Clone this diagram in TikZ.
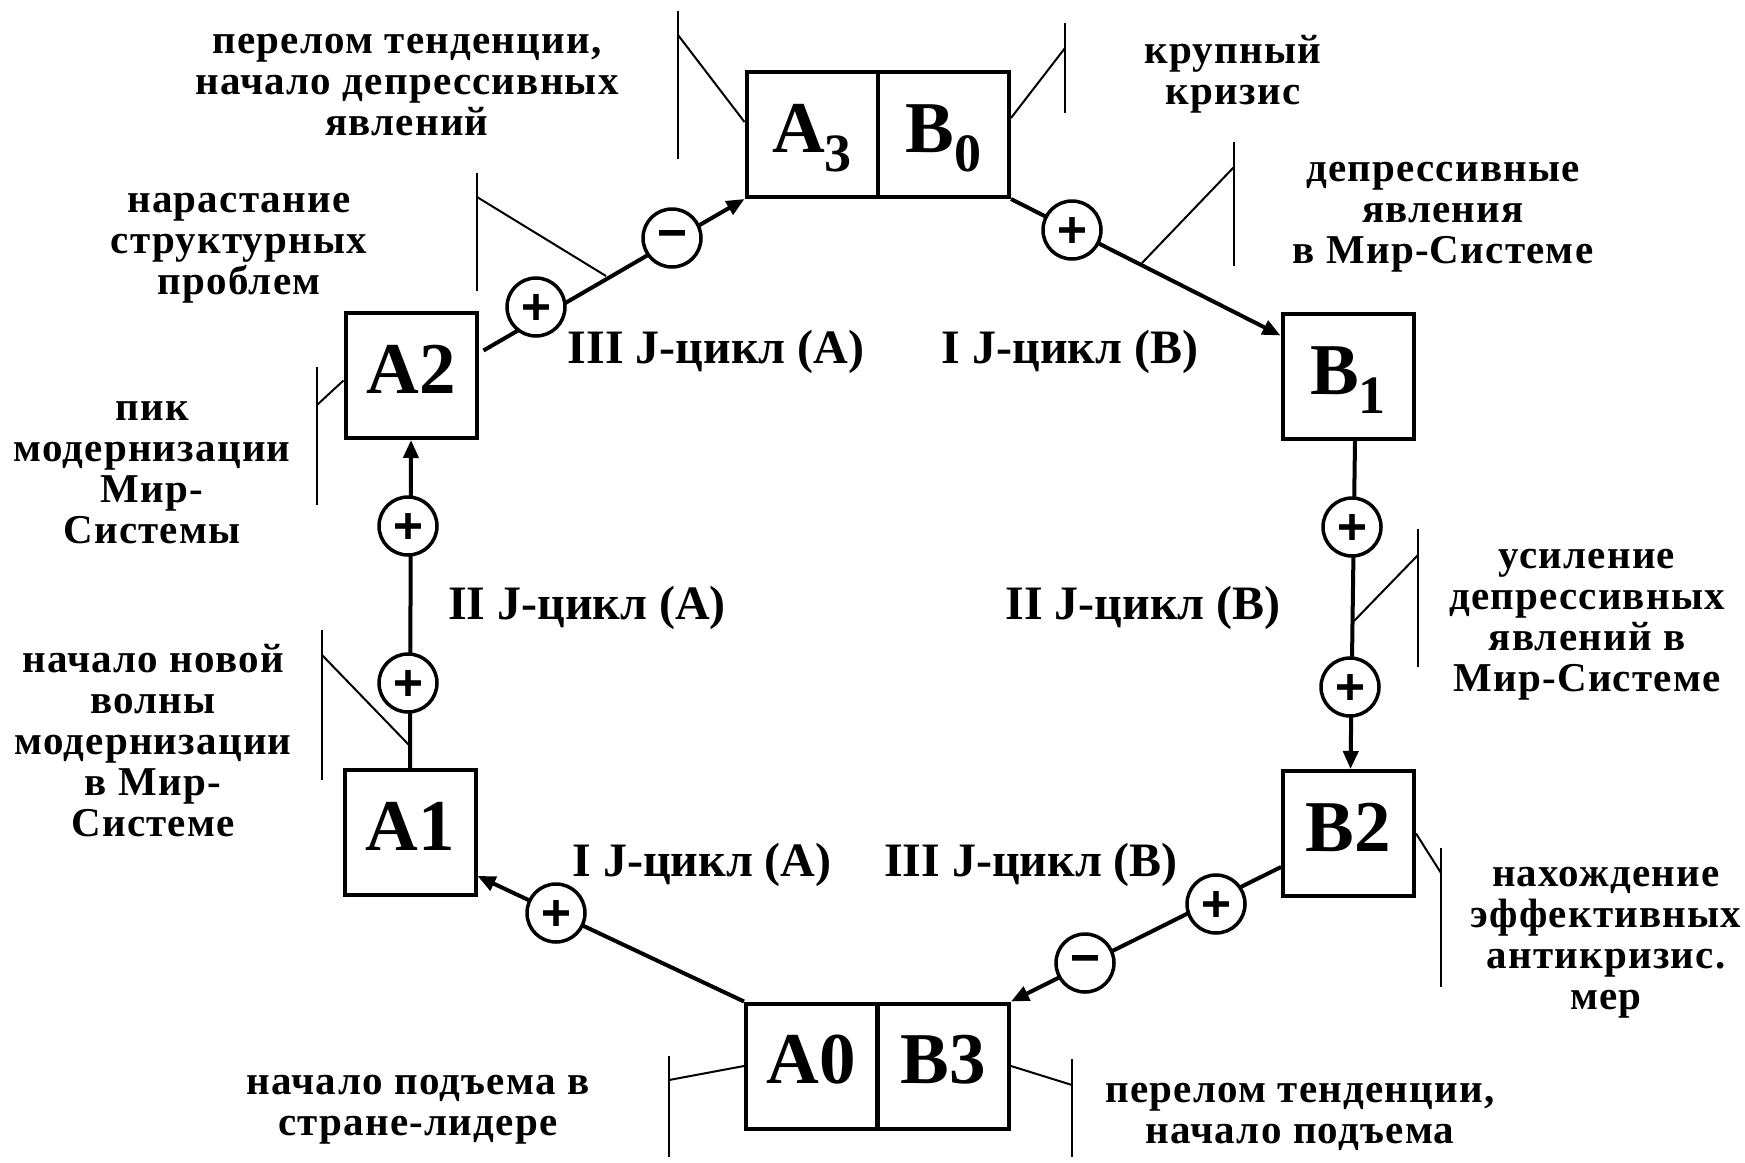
\documentclass[tikz,border=0pt]{standalone}
\usepackage{fontspec}
\setmainfont{Liberation Serif}
\newfontfamily\spacedserif[LetterSpace=3]{Liberation Serif}
\newfontfamily\signsans[FakeBold=2]{DejaVu Sans}
\usetikzlibrary{arrows.meta}

\tikzset{
  stage/.style={draw, line width=4pt, minimum width=131pt, minimum height=125pt,
    inner sep=0pt, text height=49pt, text depth=14pt,
    font=\bfseries\fontsize{73}{73}\selectfont},
  sign/.style={circle, draw, fill=white, line width=3.5pt, minimum size=58pt,
    inner sep=0pt, font=\signsans\bfseries\fontsize{40}{40}\selectfont},
  flowarrow/.style={line width=4pt, -{Triangle[length=18pt,width=15pt]}},
  leader/.style={line width=2pt},
  note/.style={align=center, inner sep=0pt,
    font=\spacedserif\bfseries\fontsize{41}{41}\selectfont},
  jcycle/.style={inner sep=0pt, font=\bfseries\fontsize{48}{48}\selectfont},
}
\newcommand{\lowsub}[1]{\raisebox{-19pt}{\fontsize{54}{54}\selectfont #1}}

\begin{document}
\begin{tikzpicture}[x=1pt,y=-1pt]
\fill[white] (0,0) rectangle (1745,1162);
\useasboundingbox (0,0) rectangle (1745,1162);

% phase boxes
\node[stage] (a3) at (812,134.5) {A\lowsub{3}};
\node[stage] (b0) at (943.5,134.5) {B\lowsub{0}};
\node[stage] (a2) at (411,375.5) {A2};
\node[stage] (b1) at (1348,376.5) {B\lowsub{1}};
\node[stage] (a1) at (410,832.5) {A1};
\node[stage] (b2) at (1348.5,833.5) {B2};
\node[stage] (a0) at (811.5,1066) {A0};
\node[stage] (b3) at (943.5,1066) {B3};

% transitions between phases
\draw[flowarrow] ([xshift=5pt,yshift=25pt]a2.east) -- (a3.south west);
\draw[flowarrow] (b0.south east) -- ([yshift=41pt]b1.west);
\draw[flowarrow] ([xshift=7pt]b1.south) -- ([xshift=2pt]b2.north);
\draw[flowarrow] ([yshift=-33.5pt]b2.west) -- (b3.north east);
\draw[flowarrow] (a0.north west) -- ([yshift=-43.5pt]a1.east);
\draw[flowarrow] (a1.north) -- (a2.south);

% feedback signs on the transitions
\node[sign] (p1) at (536,307) {+};
\node[sign] (m1) at (672,238) {−};
\node[sign] (p2) at (1072,230) {+};
\node[sign] (p3) at (1352,527) {+};
\node[sign] (p4) at (1350,687) {+};
\node[sign] (p5) at (1216,904) {+};
\node[sign] (m2) at (1085,963) {−};
\node[sign] (p6) at (556,913) {+};
\node[sign] (p7) at (408,683) {+};
\node[sign] (p8) at (408,526) {+};

% cycle names
\node[jcycle] (c3a) at (716,352) {III J-цикл (A)};
\node[jcycle] (c1b) at (1070,352) {I J-цикл (B)};
\node[jcycle] (c2a) at (587,608) {II J-цикл (A)};
\node[jcycle] (c2b) at (1143,608) {II J-цикл (B)};
\node[jcycle] (c1a) at (702,865) {I J-цикл (A)};
\node[jcycle] (c3b) at (1031,865) {III J-цикл (B)};

% annotations
\node[note] (t1) at (407,85) {перелом тенденции,\\начало депрессивных\\явлений};
\node[note] (t2) at (1233,74) {крупный\\кризис};
\node[note] (t3) at (239,248) {нарастание\\структурных\\проблем};
\node[note] (t4) at (1443,217) {депрессивные\\явления\\в Мир-Системе};
\node[note] (t5) at (152,473) {пик\\модернизации\\Мир-\\Системы};
\node[note] (t6) at (153,741) {начало новой\\волны\\модернизации\\в Мир-\\Системе};
\node[note] (t7) at (1587,625) {усиление\\депрессивных\\явлений в\\Мир-Системе};
\node[note] (t8) at (1606,943) {нахождение\\эффективных\\антикризис.\\мер};
\node[note] (t9) at (418,1110) {начало подъема в\\стране-лидере};
\node[note] (t10) at (1300,1117) {перелом тенденции,\\начало подъема};

% leader brackets
\coordinate (k1) at (678,35);
\draw[leader] (678,11) -- (678,159);
\draw[leader] (k1) -- ([yshift=12.5pt]a3.west);

\coordinate (k2) at (1065,48);
\draw[leader] (1065,23) -- (1065,113);
\draw[leader] (k2) -- ([yshift=16.5pt]b0.east);

\coordinate (k3) at (477,197);
\coordinate (e3) at (606,276);
\draw[leader] (477,173) -- (477,291);
\draw[leader] (k3) -- (e3);

\coordinate (k4) at (1234,167);
\coordinate (e4) at (1142,263);
\draw[leader] (1234,142) -- (1234,266);
\draw[leader] (k4) -- (e4);

\coordinate (k5) at (317,405);
\draw[leader] (317,367) -- (317,505);
\draw[leader] (k5) -- ([yshift=-5pt]a2.west);

\coordinate (k6) at (322,655);
\coordinate (e6) at (409,745);
\draw[leader] (322,630) -- (322,780);
\draw[leader] (k6) -- (e6);

\coordinate (k7) at (1418,555);
\coordinate (e7) at (1354,621);
\draw[leader] (1418,529) -- (1418,667);
\draw[leader] (k7) -- (e7);

\coordinate (k8) at (1441,873);
\draw[leader] (1441,848) -- (1441,987);
\draw[leader] (b2.east) -- (k8);

\coordinate (k9) at (669,1080);
\draw[leader] (669,1056) -- (669,1157);
\draw[leader] (k9) -- (a0.west);

\coordinate (k10) at (1072,1085);
\draw[leader] (1072,1059) -- (1072,1157);
\draw[leader] (b3.east) -- (k10);
\end{tikzpicture}
\end{document}
